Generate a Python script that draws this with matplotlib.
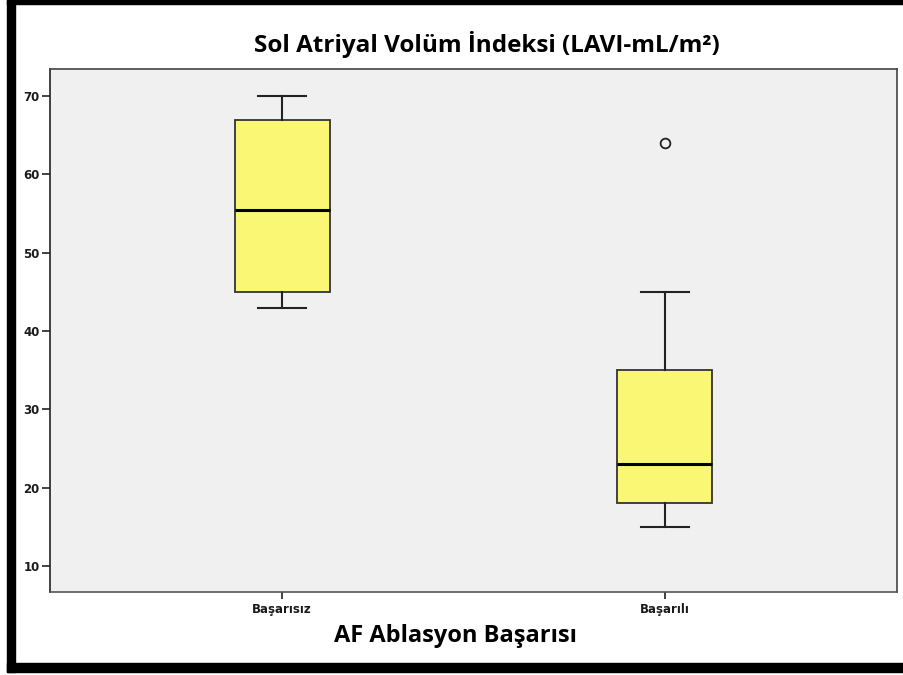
import matplotlib
matplotlib.use("Agg")
import matplotlib.pyplot as plt
from matplotlib.patches import Rectangle

# veri
gruplar = ["Başarısız", "Başarılı"]
alt_bigi = [43, 15]
q1 = [45, 18]
medyan = [55.5, 23]
q3 = [67, 35]
ust_bigi = [70, 45]
aykiri = [[], [64]]
y_ticks = [10, 20, 30, 40, 50, 60, 70]

baslik = "Sol Atriyal Volüm İndeksi (LAVI-mL/m²)"
x_etiket = "AF Ablasyon Başarısı"

stats = []
for i, g in enumerate(gruplar):
    stats.append({
        "label": g,
        "whislo": alt_bigi[i],
        "q1": q1[i],
        "med": medyan[i],
        "q3": q3[i],
        "whishi": ust_bigi[i],
        "fliers": aykiri[i],
    })

fig = plt.figure(figsize=(9.04, 6.75), dpi=100)
fig.patch.set_facecolor("white")
ax = fig.add_axes([50 / 904, 83 / 675, 847 / 904, 523 / 675])
ax.set_facecolor("#f0f0f0")

line_col = "#222222"
ax.bxp(stats, positions=[1, 2], widths=0.248, patch_artist=True,
       boxprops=dict(facecolor="#faf775", edgecolor="#333333", linewidth=1.3),
       medianprops=dict(color="black", linewidth=2.2),
       whiskerprops=dict(color=line_col, linewidth=1.5),
       capprops=dict(color=line_col, linewidth=1.5),
       capwidths=0.123,
       flierprops=dict(marker="o", markersize=7, markerfacecolor="none",
                       markeredgecolor="#222222", markeredgewidth=1.3))

ax.set_xlim(0.394, 2.606)
ax.set_ylim(6.68, 73.45)
ax.set_yticks(y_ticks)
ax.set_xticks([1, 2])
ax.set_xticklabels(gruplar)

for lab in ax.get_yticklabels() + ax.get_xticklabels():
    lab.set_fontfamily("DejaVu Sans")
    lab.set_fontweight("bold")
    lab.set_fontsize(8.5)
    lab.set_color("#1a1a1a")
ax.tick_params(axis="y", length=6, width=1.2, pad=1.5, color="#222222")
ax.tick_params(axis="x", length=5, width=1.2, pad=3, color="#222222")

for s in ax.spines.values():
    s.set_color("#444444")
    s.set_linewidth(1.2)
ax.spines["left"].set_color("#222222")
ax.spines["bottom"].set_color("#555555")

fig.text(487 / 904, 1 - 44 / 675, baslik, ha="center", va="center",
         fontsize=17.5, fontweight="bold", fontfamily="Open Sans")
fig.text(455 / 904, 1 - 636 / 675, x_etiket, ha="center", va="center",
         fontsize=17, fontweight="bold", fontfamily="Open Sans")

# siyah çerçeve
fig.patches.append(Rectangle((7 / 904, 3 / 675), 8 / 904, 1 - 3 / 675,
                             transform=fig.transFigure, color="black", zorder=10))
fig.patches.append(Rectangle((7 / 904, 1 - 4 / 675), 1, 4 / 675,
                             transform=fig.transFigure, color="black", zorder=10))
fig.patches.append(Rectangle((7 / 904, 3 / 675), 1, 9 / 675,
                             transform=fig.transFigure, color="black", zorder=10))

fig.savefig("out.png", dpi=100)
